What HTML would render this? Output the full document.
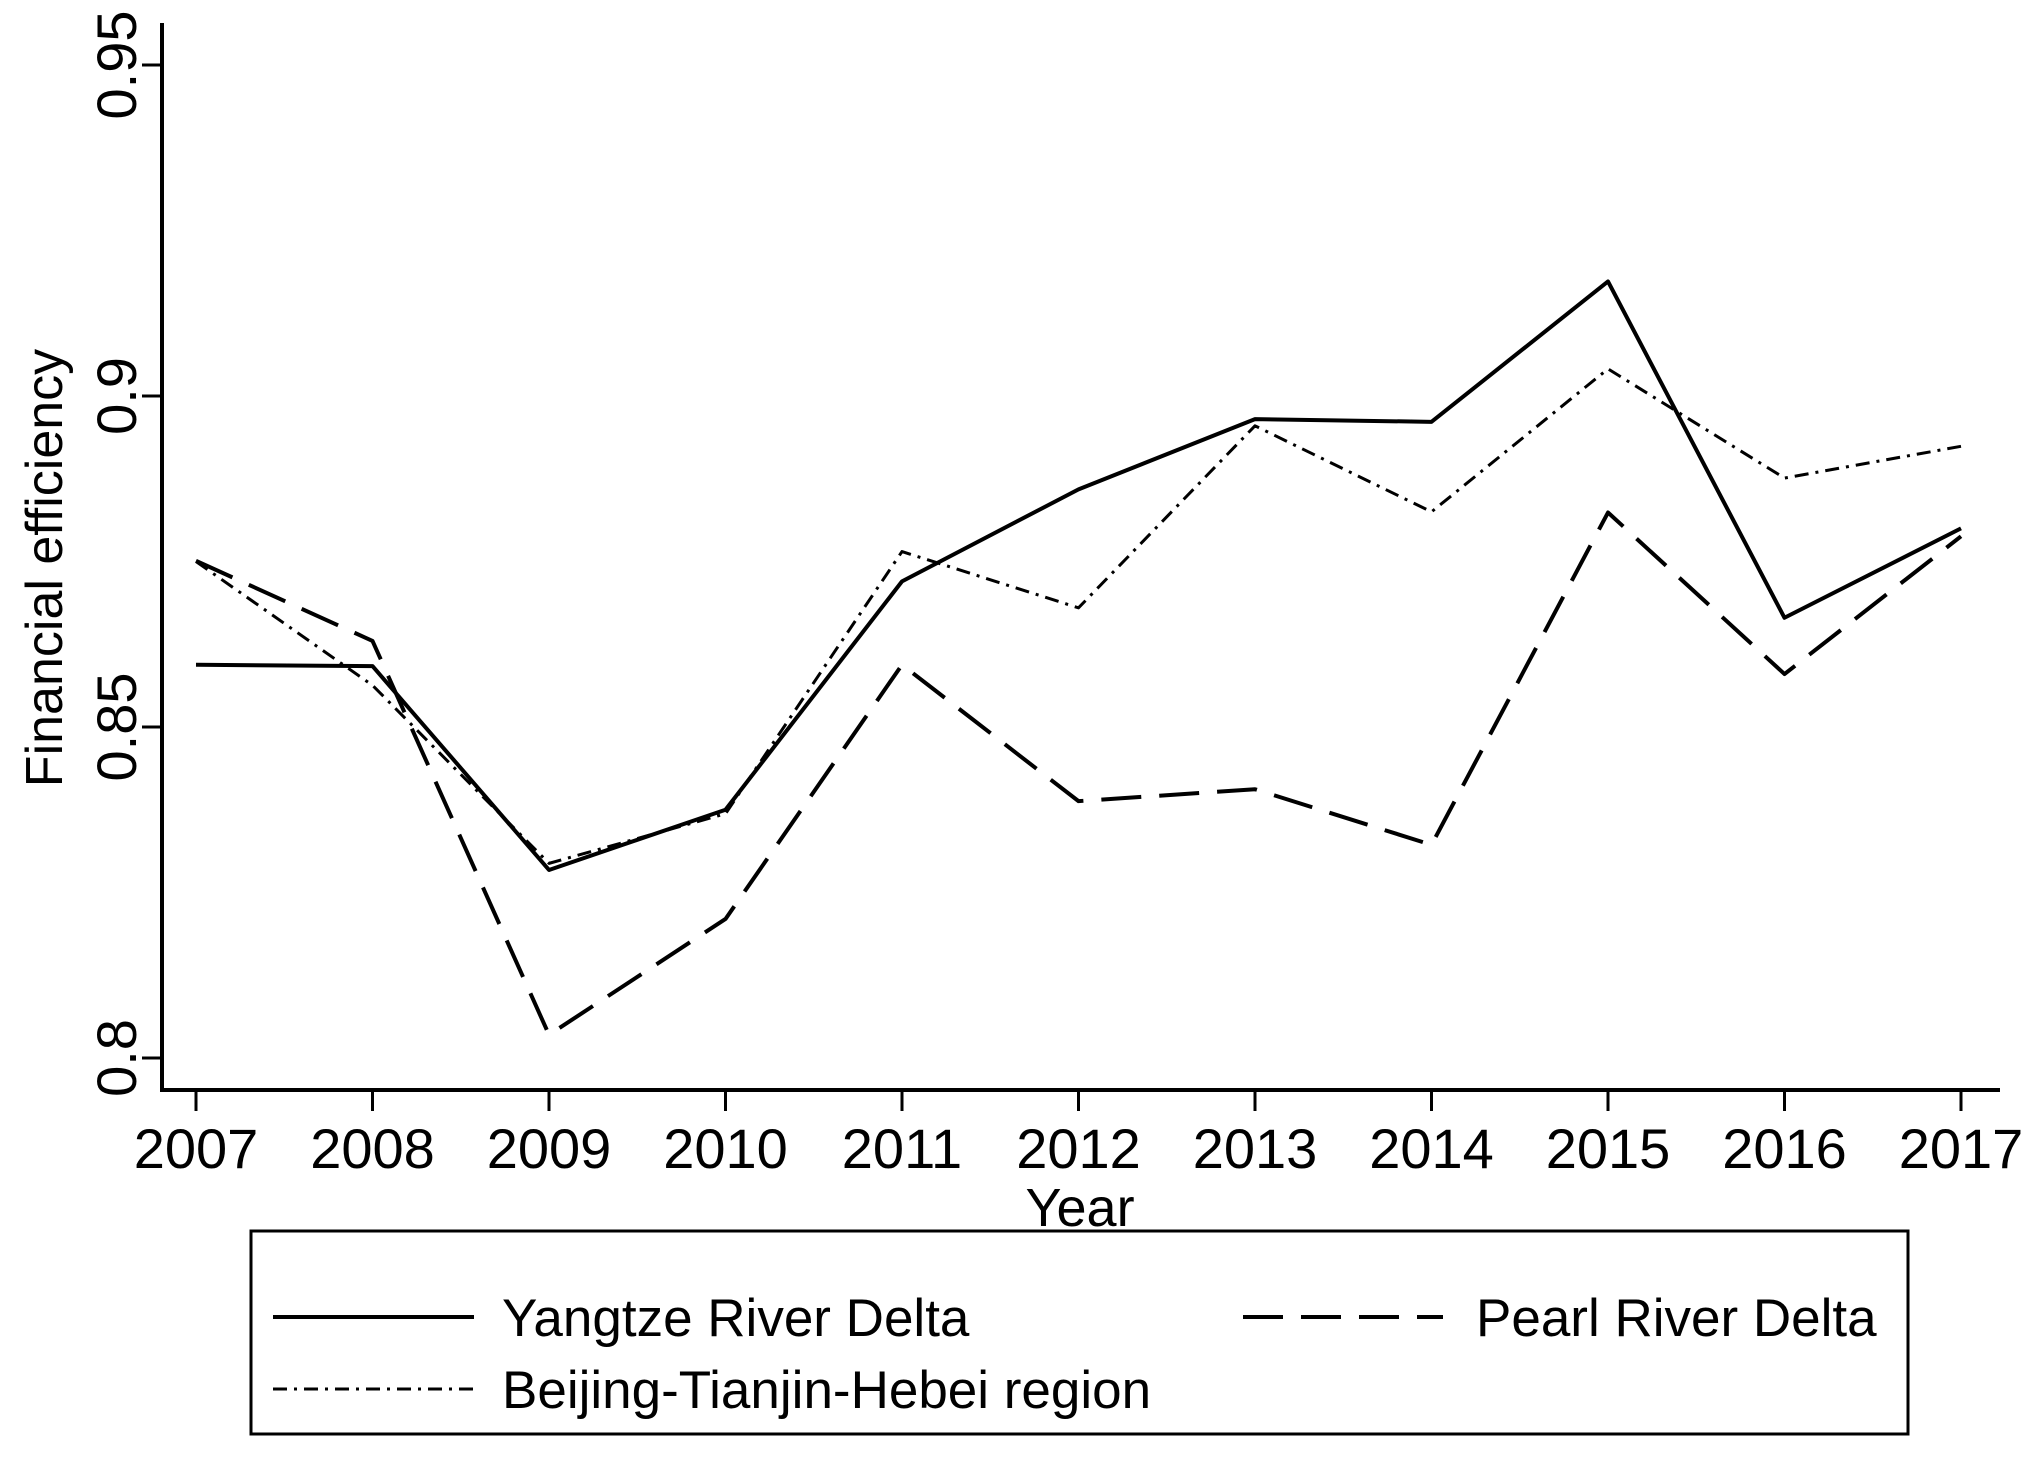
<!DOCTYPE html>
<html><head><meta charset="utf-8"><style>
html,body{margin:0;padding:0;background:#fff;}
svg{display:block;font-family:"Liberation Sans",Arial,sans-serif;}
</style></head><body>
<svg id="chart" width="2036" height="1463" viewBox="0 0 2036 1463" xmlns="http://www.w3.org/2000/svg">
<rect width="2036" height="1463" fill="#fff"/>
<g id="axes"></g>
<g id="series"></g>
<text x="1080" y="1226" font-size="54" text-anchor="middle">Year</text>
<text transform="translate(62,568) rotate(-90)" font-size="52" text-anchor="middle">Financial efficiency</text>
<g>
<rect x="251" y="1231" width="1657" height="203" fill="none" stroke="#000" stroke-width="3"/>
<g>
<line x1="273" y1="1317" x2="474" y2="1317" stroke="#000" stroke-width="4"/>
<text x="502" y="1336" font-size="53">Yangtze River Delta</text></g>
<g>
<line x1="1243" y1="1317" x2="1443" y2="1317" stroke="#000" stroke-width="4" stroke-dasharray="40,18"/>
<text x="1476" y="1336" font-size="53">Pearl River Delta</text></g>
<g>
<line x1="273" y1="1389" x2="474" y2="1389" stroke="#000" stroke-width="3" stroke-dasharray="14,7,3,7"/>
<text x="502" y="1408" font-size="53">Beijing-Tianjin-Hebei region</text></g>
</g>
</svg>
<script>
const years = [2007,2008,2009,2010,2011,2012,2013,2014,2015,2016,2017];
const yangtze = [0.8594,0.8592,0.8284,0.8375,0.872,0.8859,0.8965,0.8961,0.9173,0.8665,0.880];
const pearl = [0.8751,0.863,0.8035,0.821,0.8594,0.8388,0.8406,0.8322,0.8824,0.858,0.8788];
const beijing = [0.875,0.8563,0.8294,0.8369,0.8765,0.868,0.8955,0.8825,0.9041,0.8876,0.8924];
const yTicks = [0.8,0.85,0.9,0.95];
const yTickLabels = ["0.8","0.85","0.9","0.95"];

const NS="http://www.w3.org/2000/svg";
function xs(v){return 196+(v-2007)*(1961-196)/10;}
function ys(v){return 1058-(v-0.8)*(1058-65)/0.15;}
function mk(tag,attrs,parent){const e=document.createElementNS(NS,tag);for(const k in attrs)e.setAttribute(k,attrs[k]);parent.appendChild(e);return e;}
const axes=document.getElementById('axes');
const yl=mk('line',{x1:162,y1:23,x2:162,y2:1091,stroke:'#000','stroke-width':4},axes);


const xl=mk('line',{x1:160,y1:1090,x2:2000,y2:1090,stroke:'#000','stroke-width':4},axes);


yTicks.forEach((t,i)=>{
  const y=ys(t);
  const tk=mk('line',{x1:142,y1:y,x2:162,y2:y,stroke:'#000','stroke-width':3},axes);
  
  
  const tx=mk('text',{transform:`translate(136,${y}) rotate(-90)`,'font-size':56,'text-anchor':'middle'},axes);
  tx.textContent=yTickLabels[i];
  
  
});
years.forEach(yr=>{
  const x=xs(yr);
  const tk=mk('line',{x1:x,y1:1090,x2:x,y2:1111,stroke:'#000','stroke-width':3},axes);
  
  
  const tx=mk('text',{x:x,y:1168,'font-size':56,'text-anchor':'middle'},axes);
  tx.textContent=String(yr);
  
  
});
const ser=document.getElementById('series');
function draw(vals,name,dash,w){
  const pts=vals.map((v,i)=>xs(years[i])+','+ys(v)).join(' ');
  const p=mk('polyline',{points:pts,fill:'none',stroke:'#000','stroke-width':w,'stroke-linejoin':'round'},ser);
  if(dash)p.setAttribute('stroke-dasharray',dash);
  
  
}
draw(beijing,'beijing-tianjin-hebei-line','14,7,3,7',3);
draw(pearl,'pearl-river-delta-line','40,18',4);
draw(yangtze,'yangtze-river-delta-line',null,4);
</script>
</body></html>
